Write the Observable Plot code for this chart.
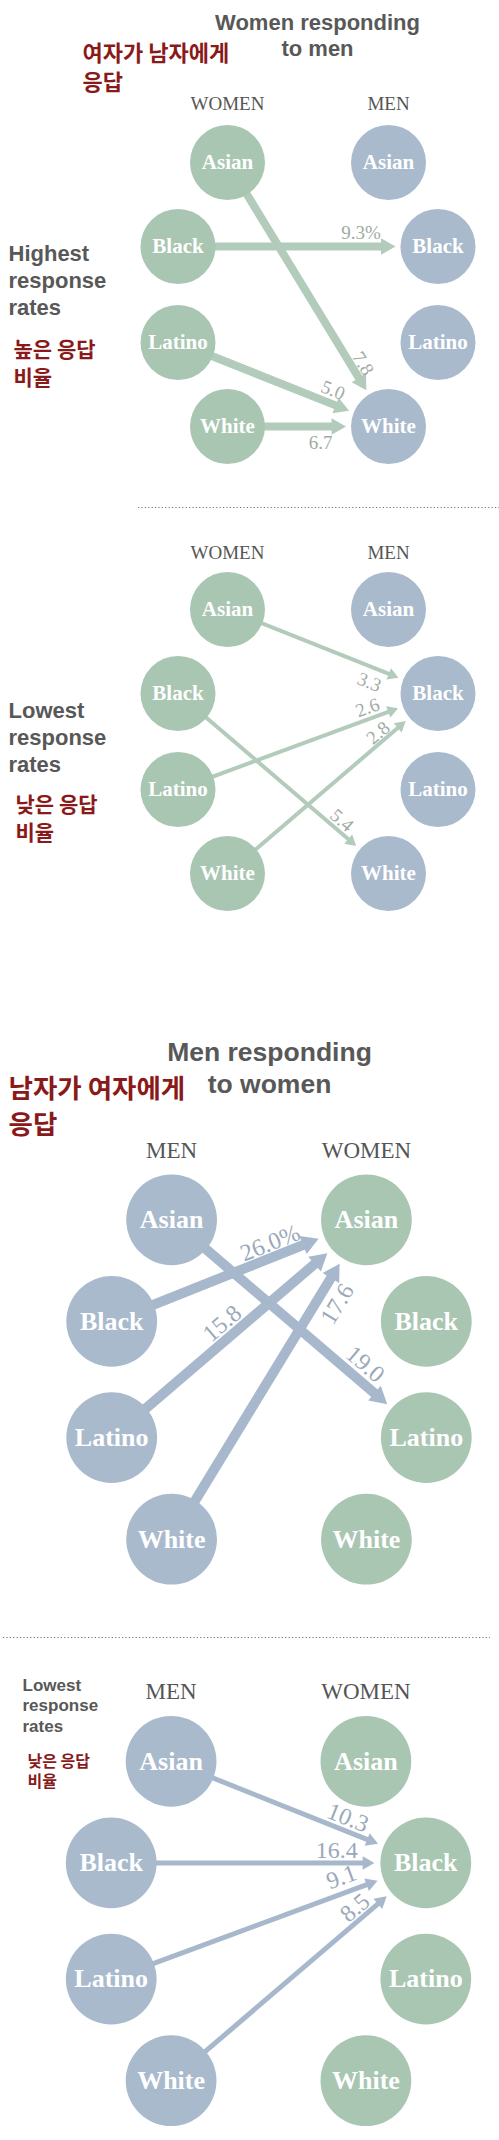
<!DOCTYPE html>
<html>
<head>
<meta charset="utf-8">
<script src="https://cdn.jsdelivr.net/npm/d3@7"></script>
<script src="https://cdn.jsdelivr.net/npm/@observablehq/plot@0.6"></script>
<style>
  html, body { margin: 0; padding: 0; background: #fff; }
  #chart svg { display: block; }
</style>
</head>
<body>
<div id="chart"></div>
<script>
// ---------------- DATA ----------------
const races = ["Asian", "Black", "Latino", "White"];

// Women responding to men — highest response rates (women → men)
const hiWomenFrom = ["Asian", "Black", "Latino", "White"];
const hiWomenTo   = ["White", "Black", "White", "White"];
const hiWomenRate = [7.8, 9.3, 5.0, 6.7];

// Women responding to men — lowest response rates
const loWomenFrom = ["Asian", "Latino", "White", "Black"];
const loWomenTo   = ["Black", "Black", "Black", "White"];
const loWomenRate = [3.3, 2.6, 2.8, 5.4];

// Men responding to women — highest response rates (men → women)
const hiMenFrom = ["Black", "Latino", "White", "Asian"];
const hiMenTo   = ["Asian", "Asian", "Asian", "Latino"];
const hiMenRate = [26.0, 15.8, 17.6, 19.0];

// Men responding to women — lowest response rates
const loMenFrom = ["Asian", "Black", "Latino", "White"];
const loMenTo   = ["Black", "Black", "Black", "Black"];
const loMenRate = [10.3, 16.4, 9.1, 8.5];

// Texts
const titleWomen = ["Women responding", "to men"];
const titleMen = ["Men responding", "to women"];
const koWomenToMen = ["여자가 남자에게", "응답"];
const koMenToWomen = ["남자가 여자에게", "응답"];
const highestLabel = ["Highest", "response", "rates"];
const lowestLabel = ["Lowest", "response", "rates"];
const koHigh = ["높은 응답", "비율"];
const koLow = ["낮은 응답", "비율"];
const sexWomen = "WOMEN";
const sexMen = "MEN";

// ---------------- STYLE / LAYOUT ----------------
const SERIF = "'Liberation Serif', 'DejaVu Serif', serif";
const SANS = "'Liberation Sans', Arial, sans-serif";
const KR = "'Noto Sans CJK KR', 'Noto Sans', sans-serif";
const GREEN = "#a9c6b3", BLUE = "#a9bacd";
const GREEN_ARROW = "#b2cbba", BLUE_ARROW = "#a8b8cc";
const GREEN_TEXT = "#9faba3", BLUE_TEXT = "#9aa8ba";
const TITLE = "#585858", RED = "#8a1a1a", HEAD = "#555";

const rowOff = [-132, -48, 48, 132];      // Asian, Black, Latino, White
const colInner = 80.5, colOuter = 130;
const baseR = 37.5, baseGap = 5;

const fmt = d3.format(".1f");

const panels = [
  {from: hiWomenFrom, to: hiWomenTo, rate: hiWomenRate, pct: 1,
   cx: 307.5, cy: 294, s: 1, left: sexWomen, right: sexMen,
   leftFill: GREEN, rightFill: BLUE, arrow: GREEN_ARROW, textFill: GREEN_TEXT,
   sw: 8, head: 6.2, valueSize: 19, nodeSize: 21, headerSize: 19, headerY: 103,
   labelDist: [67, 77, 65, 68], labelOff: [-11, -14, -13, 16]},
  {from: loWomenFrom, to: loWomenTo, rate: loWomenRate, pct: -1,
   cx: 307.5, cy: 741, s: 1, left: sexWomen, right: sexMen,
   leftFill: GREEN, rightFill: BLUE, arrow: GREEN_ARROW, textFill: GREEN_TEXT,
   sw: 4, head: 4.5, valueSize: 19, nodeSize: 21, headerSize: 19, headerY: 552,
   labelDist: [68, 71, 71, 70], labelOff: [15, -11, -9, -10]},
  {from: hiMenFrom, to: hiMenTo, rate: hiMenRate, pct: 0,
   cx: 268.5, cy: 1379, s: 1.21, left: sexMen, right: sexWomen,
   leftFill: BLUE, rightFill: GREEN, arrow: BLUE_ARROW, textFill: BLUE_TEXT,
   sw: 10, head: 7.2, valueSize: 24, nodeSize: 26, headerSize: 23, headerY: 1150,
   labelDist: [98, 177, 87, 94], labelOff: [-14, -15, 19, -16]},
  {from: loMenFrom, to: loMenTo, rate: loMenRate, pct: -1,
   cx: 268, cy: 1920.5, s: 1.21, left: sexMen, right: sexWomen,
   leftFill: BLUE, rightFill: GREEN, arrow: BLUE_ARROW, textFill: BLUE_TEXT,
   sw: 5, head: 5, valueSize: 24, nodeSize: 26, headerSize: 23, headerY: 1691,
   labelDist: [89, 89, 84, 83], labelOff: [-13, -13, -16, -12]}
];

function pos(p, side, race) {
  const i = races.indexOf(race);
  const outer = race === "Black" || race === "Latino";
  return [p.cx + side * (outer ? colOuter : colInner) * p.s, p.cy + rowOff[i] * p.s];
}

function linkGeom(p, i) {
  const [x0, y0] = pos(p, -1, p.from[i]);
  const [x1, y1] = pos(p, 1, p.to[i]);
  const dx = x1 - x0, dy = y1 - y0, L = Math.hypot(dx, dy);
  const ux = dx / L, uy = dy / L;
  const R = baseR * p.s, gap = baseGap * p.s;
  const tx = x1 - ux * (R + gap), ty = y1 - uy * (R + gap);
  const hr = p.head;
  const ang = Math.atan2(dy, dx) * 180 / Math.PI;
  const D = p.labelDist[i], off = p.labelOff[i];
  return {
    x1: x0, y1: y0,
    x2: tx - ux * 2.0 * hr, y2: ty - uy * 2.0 * hr,
    hx: tx - ux * 1.555 * hr, hy: ty - uy * 1.555 * hr, hrot: ang + 90,
    lx: x1 - ux * D - uy * off, ly: y1 - uy * D + ux * off, lrot: ang,
    label: fmt(p.rate[i]) + (i === p.pct ? "%" : "")
  };
}

function lines(arr, x, y0, gap) {
  return arr.map((t, i) => ({x, y: y0 + i * gap, text: t}));
}

const marks = [];

// separators
marks.push(Plot.ruleY([507], {x1: 138, x2: 499, stroke: "#6f6f6f", strokeWidth: 1.2, strokeDasharray: "1.2,2.2"}));
marks.push(Plot.ruleY([1637], {x1: 3, x2: 490, stroke: "#6f6f6f", strokeWidth: 1.2, strokeDasharray: "1.2,2.2"}));

for (const p of panels) {
  const R = baseR * p.s;
  const links = p.from.map((_, i) => linkGeom(p, i));
  const leftNodes = races.map(r => { const [x, y] = pos(p, -1, r); return {x, y, race: r}; });
  const rightNodes = races.map(r => { const [x, y] = pos(p, 1, r); return {x, y, race: r}; });
  const [lhx] = pos(p, -1, "Asian");
  const [rhx] = pos(p, 1, "Asian");

  marks.push(
    Plot.text([{x: lhx, y: p.headerY, text: p.left}, {x: rhx, y: p.headerY, text: p.right}],
      {x: "x", y: "y", text: "text", fill: HEAD, fontFamily: SERIF, fontSize: p.headerSize}),
    Plot.link(links, {x1: "x1", y1: "y1", x2: "x2", y2: "y2", stroke: p.arrow, strokeWidth: p.sw, strokeLinecap: "butt"}),
    Plot.dot(links, {x: "hx", y: "hy", r: p.head, symbol: "triangle", rotate: "hrot", fill: p.arrow, stroke: "none"}),
    Plot.dot(leftNodes, {x: "x", y: "y", r: R, fill: p.leftFill, stroke: "none"}),
    Plot.dot(rightNodes, {x: "x", y: "y", r: R, fill: p.rightFill, stroke: "none"}),
    Plot.text(leftNodes.concat(rightNodes), {x: "x", y: "y", text: "race", fill: "white",
      fontFamily: SERIF, fontWeight: "bold", fontSize: p.nodeSize}),
    Plot.text(links, {x: "lx", y: "ly", text: "label", rotate: "lrot", fill: p.textFill,
      fontFamily: SERIF, fontSize: p.valueSize})
  );
}

// titles
marks.push(
  Plot.text(lines(titleWomen, 317, 22, 26), {x: "x", y: "y", text: "text", fill: TITLE,
    fontFamily: SANS, fontWeight: "bold", fontSize: 22}),
  Plot.text(lines(titleMen, 269, 1052, 32), {x: "x", y: "y", text: "text", fill: TITLE,
    fontFamily: SANS, fontWeight: "bold", fontSize: 26.5}),
  Plot.text(lines(koWomenToMen, 82, 53, 29), {x: "x", y: "y", text: "text", fill: RED,
    fontFamily: KR, fontWeight: "bold", fontSize: 22, textAnchor: "start"}),
  Plot.text(lines(koMenToWomen, 8, 1089, 36), {x: "x", y: "y", text: "text", fill: RED,
    fontFamily: KR, fontWeight: "bold", fontSize: 26.5, textAnchor: "start"}),
  Plot.text(lines(highestLabel, 8, 253, 27), {x: "x", y: "y", text: "text", fill: TITLE,
    fontFamily: SANS, fontWeight: "bold", fontSize: 22, textAnchor: "start"}),
  Plot.text(lines(koHigh, 13, 350, 28), {x: "x", y: "y", text: "text", fill: RED,
    fontFamily: KR, fontWeight: "bold", fontSize: 21, textAnchor: "start"}),
  Plot.text(lines(lowestLabel, 8, 710, 27), {x: "x", y: "y", text: "text", fill: TITLE,
    fontFamily: SANS, fontWeight: "bold", fontSize: 22, textAnchor: "start"}),
  Plot.text(lines(koLow, 15, 805, 28), {x: "x", y: "y", text: "text", fill: RED,
    fontFamily: KR, fontWeight: "bold", fontSize: 21, textAnchor: "start"}),
  Plot.text(lines(lowestLabel, 22, 1685, 20.5), {x: "x", y: "y", text: "text", fill: TITLE,
    fontFamily: SANS, fontWeight: "bold", fontSize: 17, textAnchor: "start"}),
  Plot.text(lines(koLow, 27, 1761, 20), {x: "x", y: "y", text: "text", fill: RED,
    fontFamily: KR, fontWeight: "bold", fontSize: 16, textAnchor: "start"})
);

const chart = Plot.plot({
  width: 499,
  height: 2140,
  margin: 0,
  x: {domain: [0, 499], range: [0, 499], axis: null},
  y: {domain: [0, 2140], range: [0, 2140], axis: null},
  style: {background: "#fff"},
  marks
});
document.getElementById("chart").append(chart);
</script>
</body>
</html>
